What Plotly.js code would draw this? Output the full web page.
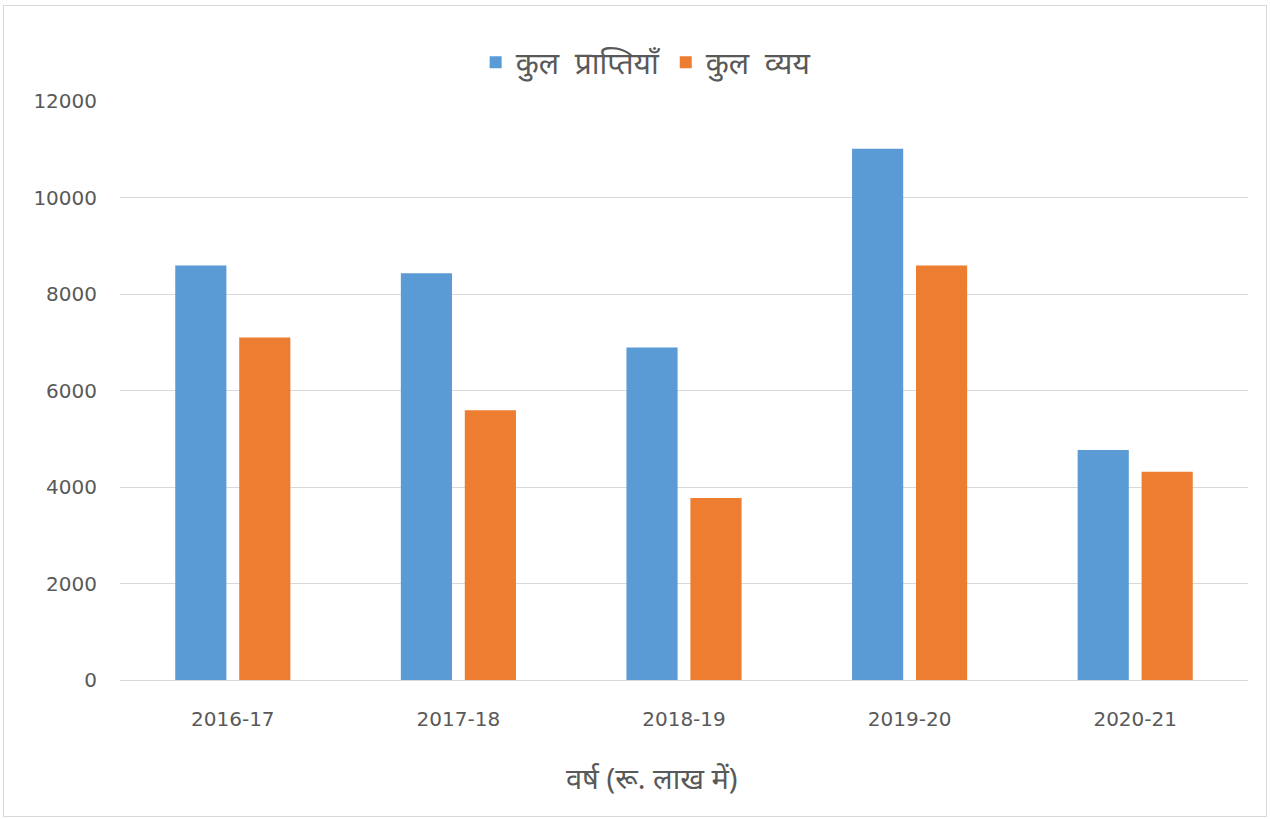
<!DOCTYPE html>
<html>
<head>
<meta charset="utf-8">
<script src="https://cdn.plot.ly/plotly-3.0.1.min.js"></script>
<style>
html,body{margin:0;padding:0;background:#fff;}
#wrap{position:relative;width:1270px;height:819px;}
#chart{position:absolute;left:0;top:0;width:1270px;height:819px;}
#frame{position:absolute;left:3px;top:5px;width:1264px;height:812px;border:1px solid #d9d9d9;box-sizing:border-box;pointer-events:none;}
</style>
</head>
<body>
<div id="wrap"><div id="chart"></div><div id="frame"></div></div>
<script>
const categories = ["2016-17", "2017-18", "2018-19", "2019-20", "2020-21"];
const receipts = [8590, 8430, 6890, 11010, 4765];
const expenditure = [7100, 5590, 3770, 8590, 4315];
const seriesNames = ["कुल  प्राप्तियाँ", "कुल  व्यय"];
const xTitle = "वर्ष (रू. लाख में)";
const tickFont = {family: "DejaVu Sans, sans-serif", size: 20, color: "#595959"};

const traces = [
  {type: "bar", name: seriesNames[0], x: categories, y: receipts,
   marker: {color: "#5b9bd5"}},
  {type: "bar", name: seriesNames[1], x: categories, y: expenditure,
   marker: {color: "#ed7d31"}}
];

const layout = {
  width: 1270, height: 819,
  paper_bgcolor: "#ffffff", plot_bgcolor: "#ffffff",
  margin: {l: 120, r: 22, t: 101, b: 139},
  barmode: "group", bargap: 0.433, bargroupgap: 0.2,
  showlegend: true,
  legend: {orientation: "h", x: 0.466, xanchor: "center", y: 1.067, yanchor: "middle",
           font: {family: "Noto Sans, sans-serif", size: 30, color: "#595959"},
           itemwidth: 30, traceorder: "normal"},
  xaxis: {type: "category", showgrid: false, showline: false, zeroline: false,
          ticks: "outside", ticklen: 21, tickcolor: "rgba(0,0,0,0)",
          tickfont: tickFont},
  yaxis: {range: [0, 12000], dtick: 2000, tickformat: "d",
          showgrid: true, gridcolor: "#d9d9d9", gridwidth: 1,
          zeroline: true, zerolinecolor: "#d9d9d9", zerolinewidth: 1,
          showline: false, ticks: "outside", ticklen: 18, tickcolor: "rgba(0,0,0,0)",
          tickfont: tickFont},
  annotations: [{text: xTitle, xref: "paper", yref: "paper", x: 0.471, y: -0.168,
                 xanchor: "center", yanchor: "middle", showarrow: false,
                 font: {family: "Noto Sans, sans-serif", size: 29, color: "#595959"}}]
};

Plotly.newPlot("chart", traces, layout, {displayModeBar: false, staticPlot: true});
</script>
</body>
</html>
